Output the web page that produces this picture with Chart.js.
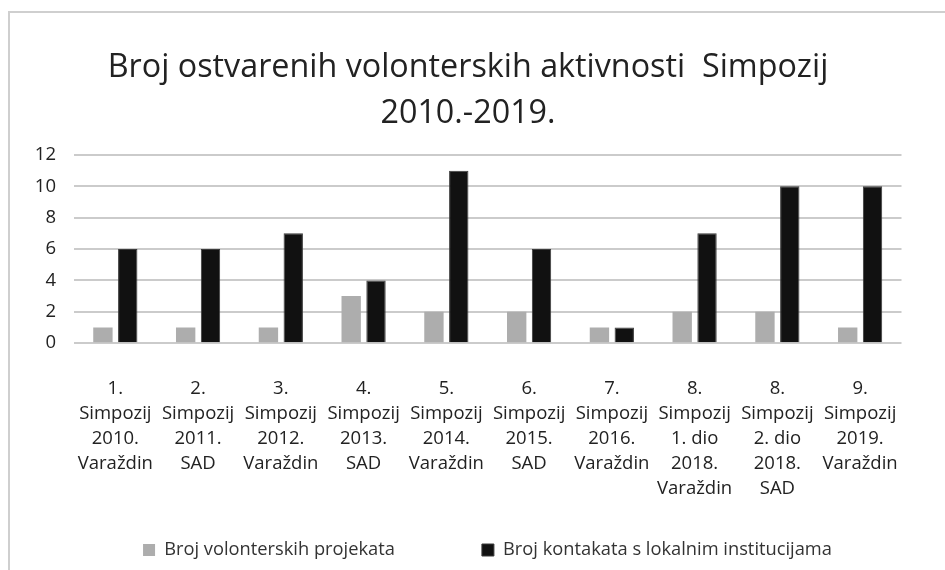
<!DOCTYPE html>
<html>
<head>
<meta charset="utf-8">
<script src="https://cdn.jsdelivr.net/npm/chart.js@4.4.1/dist/chart.umd.min.js"></script>
<style>
html,body{margin:0;padding:0;background:#fff;}
#wrap{position:relative;width:945px;height:570px;overflow:hidden;}
#frame{position:absolute;left:8px;top:11px;width:960px;height:600px;border:2px solid #cfcfcf;box-sizing:border-box;}
canvas{position:absolute;left:0;top:0;}
</style>
</head>
<body>
<div id="wrap"><div id="frame"></div><canvas id="c" width="945" height="570"></canvas></div>
<script>
const categories = [
  ["1.","Simpozij","2010.","Varaždin"],
  ["2.","Simpozij","2011.","SAD"],
  ["3.","Simpozij","2012.","Varaždin"],
  ["4.","Simpozij","2013.","SAD"],
  ["5.","Simpozij","2014.","Varaždin"],
  ["6.","Simpozij","2015.","SAD"],
  ["7.","Simpozij","2016.","Varaždin"],
  ["8.","Simpozij","1. dio","2018.","Varaždin"],
  ["8.","Simpozij","2. dio","2018.","SAD"],
  ["9.","Simpozij","2019.","Varaždin"]
];
const volonterskiProjekti = [1,1,1,3,2,2,1,2,2,1];
const kontaktiInstitucije = [6,6,7,4,11,6,1,7,10,10];
const seriesNames = ["Broj volonterskih projekata","Broj kontakata s lokalnim institucijama"];
const titleLines = ["Broj ostvarenih volonterskih aktivnosti  Simpozij","2010.-2019."];
const yTicks = {min:0, max:12, step:2};

const FONT = "'Open Sans',sans-serif";
const LEGEND_PAD = 87;
const LEGEND_FONT = 18.3;

const placeBoxes = {
  id:'placeBoxes',
  afterLayout(chart){
    const t = chart.titleBlock;
    if (t){ const d = 468 - (t.left + t.right)/2; t.left += d; t.right += d; }
    const l = chart.legend;
    if (l && l.lineWidths){
      const lw = l.lineWidths[0];
      const start = (l.left + LEGEND_PAD + l.right - lw)/2;
      const center = start + (lw - LEGEND_PAD)/2;
      const d = 487.5 - center;
      l.left += d; l.right += d;
      const itemH = Math.max(12, LEGEND_FONT);
      l.top = 550 - itemH/2 - LEGEND_PAD;
      l.bottom = chart.height;
    }
  }
};

new Chart(document.getElementById('c'), {
  type:'bar',
  data:{
    labels:categories,
    datasets:[
      {label:seriesNames[0],data:volonterskiProjekti,backgroundColor:'#adadad',categoryPercentage:0.6,barPercentage:0.78},
      {label:seriesNames[1],data:kontaktiInstitucije,backgroundColor:'#111111',borderColor:'#3a3a3a',borderWidth:1,categoryPercentage:0.6,barPercentage:0.78}
    ]
  },
  options:{
    responsive:false,
    animation:false,
    devicePixelRatio:1,
    layout:{padding:{left:16.8,right:43.5,top:0,bottom:0}},
    plugins:{
      title:{display:true,text:titleLines,color:'#222',font:{family:FONT,size:32.3,weight:'normal',lineHeight:1.45},padding:{top:44,bottom:17.3}},
      legend:{position:'bottom',maxHeight:44,labels:{color:'#333',font:{family:FONT,size:LEGEND_FONT},boxWidth:12,boxHeight:12,padding:LEGEND_PAD},padding:0},
      tooltip:{enabled:false}
    },
    scales:{
      x:{
        grid:{display:false},
        border:{display:false},
        ticks:{color:'#222',font:{family:FONT,size:18.5,lineHeight:1.35},padding:25,maxRotation:0,autoSkip:false}
      },
      y:{
        min:yTicks.min,max:yTicks.max,
        ticks:{stepSize:yTicks.step,color:'#222',font:{family:FONT,size:18.5},padding:18},
        grid:{color:'#cbcbcb',lineWidth:2,drawTicks:false},
        border:{display:false}
      }
    }
  },
  plugins:[placeBoxes]
});
</script>
</body>
</html>
